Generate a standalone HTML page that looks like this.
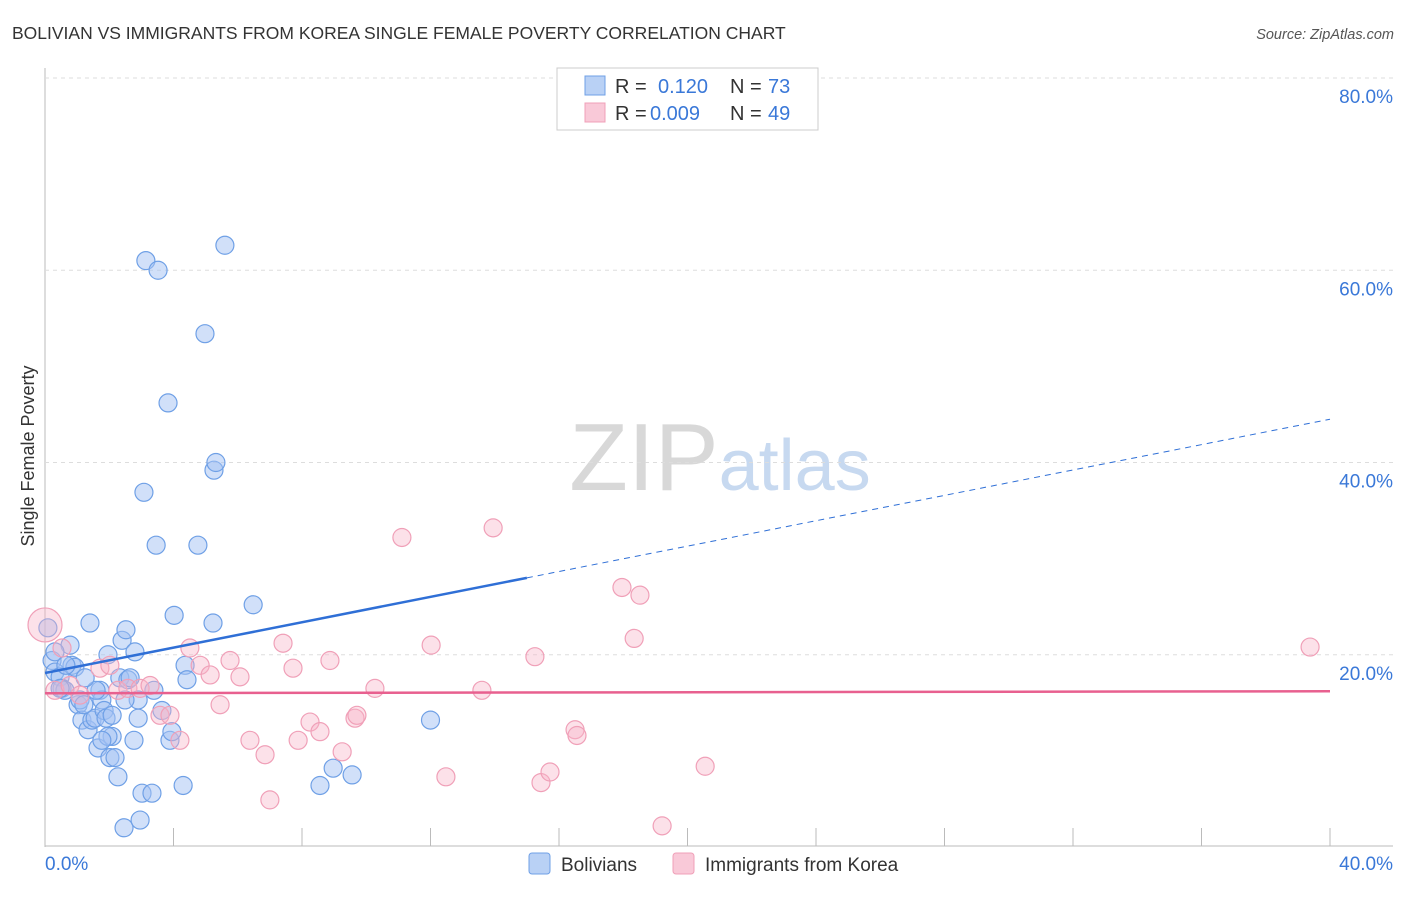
<!DOCTYPE html>
<html><head><meta charset="utf-8"><style>
body{margin:0;background:#fff;font-family:"Liberation Sans",sans-serif}
svg text{font-family:"Liberation Sans",sans-serif}
</style></head><body>
<svg id="chart" width="1406" height="892" xmlns="http://www.w3.org/2000/svg">
<text x="12" y="39" font-size="17.5" fill="#333">BOLIVIAN VS IMMIGRANTS FROM KOREA SINGLE FEMALE POVERTY CORRELATION CHART</text>
<text x="1394" y="39" font-size="14.5" fill="#555" font-style="italic" text-anchor="end">Source: ZipAtlas.com</text>
<text x="720" y="490" font-size="96" fill="#ddd" text-anchor="middle" font-family="Liberation Serif"><tspan fill="#d8d8d8">ZIP</tspan><tspan fill="#c7d9f0" font-family="Liberation Sans" font-size="72">atlas</tspan></text>
<text transform="translate(34,456) rotate(-90)" font-size="18" fill="#333" text-anchor="middle">Single Female Poverty</text>
<g id="grid"></g><g id="ticks"></g><g id="pts"></g><g id="lines"></g>
<g>
<rect x="557" y="68" width="261" height="62" fill="#fff" stroke="#ccc"/>
<rect x="585" y="76" width="20" height="19" fill="#b9d1f5" stroke="#6fa0e6"/>
<text x="615" y="93" font-size="20" fill="#333">R = </text><text x="658" y="93" font-size="20" fill="#3a78d8">0.120</text>
<text x="730" y="93" font-size="20" fill="#333">N = </text><text x="768" y="93" font-size="20" fill="#3a78d8">73</text>
<rect x="585" y="103" width="20" height="19" fill="#f9c9d8" stroke="#f0a0b8"/>
<text x="615" y="120" font-size="20" fill="#333">R = </text><text x="650" y="120" font-size="20" fill="#3a78d8">0.009</text>
<text x="730" y="120" font-size="20" fill="#333">N = </text><text x="768" y="120" font-size="20" fill="#3a78d8">49</text>
</g>
<g>
<rect x="529" y="853" width="21" height="21" rx="3" fill="#b9d1f5" stroke="#6fa0e6"/>
<text x="561" y="871" font-size="19" fill="#333">Bolivians</text>
<rect x="673" y="853" width="21" height="21" rx="3" fill="#f9c9d8" stroke="#f0a0b8"/>
<text x="705" y="871" font-size="19" fill="#333">Immigrants from Korea</text>
</g>
</svg>
<script>
const xTicks=[0,4,8,12,16,20,24,28,32,36,40];
const yTicks=[20,40,60,80];
const blueX=[0.09,0.22,0.31,0.47,0.53,0.62,0.78,0.84,0.93,1.03,1.09,1.15,1.34,1.40,1.46,1.56,1.65,1.71,1.77,1.84,1.90,1.96,2.02,2.09,2.18,2.27,2.33,2.40,2.46,2.52,2.58,2.65,2.77,2.90,2.96,3.02,3.08,3.14,3.33,3.39,3.46,3.52,3.64,3.83,3.89,3.95,4.02,4.30,4.36,4.42,4.76,4.98,5.23,5.26,5.32,5.60,6.48,8.56,8.97,9.56,12.0,0.31,0.65,1.21,1.59,1.96,2.09,1.25,2.80,0.47,1.77,2.90,2.49];
const blueY=[22.8,19.4,18.2,17.7,16.5,16.3,21.0,18.9,18.7,14.8,15.3,13.2,12.2,23.3,13.2,13.4,10.3,16.3,15.3,14.2,13.4,20.0,9.3,11.5,9.3,7.3,17.6,21.5,2.0,22.6,17.4,17.6,11.1,13.4,2.8,5.6,36.9,61.0,5.6,16.3,31.4,60.0,14.2,46.2,11.1,12.0,24.1,6.4,18.9,17.4,31.4,53.4,23.3,39.2,40.0,62.6,25.2,6.4,8.2,7.5,13.2,20.3,18.9,14.8,16.3,11.5,13.7,17.6,20.3,16.5,11.1,15.3,15.3];
const pinkX=[0,0.31,0.53,0.78,1.09,1.71,2.27,2.58,2.96,3.27,3.58,3.89,4.20,4.51,4.83,5.14,5.45,5.76,6.07,6.38,6.85,7.00,7.41,7.72,7.88,8.25,8.56,8.87,9.25,9.65,9.71,10.27,11.11,12.02,12.48,13.60,13.95,15.25,15.44,15.72,16.50,16.56,17.96,18.34,18.52,19.21,20.55,39.38,2.02];
const pinkY=[23.1,16.3,20.7,16.8,15.8,18.6,16.3,16.5,16.5,16.8,13.7,13.7,11.1,20.7,18.9,17.9,14.8,19.4,17.7,11.1,9.6,4.9,21.2,18.6,11.1,13.0,12.0,19.4,9.9,13.4,13.7,16.5,32.2,21.0,7.3,16.3,33.2,19.8,6.7,7.8,12.2,11.6,27.0,21.7,26.2,2.2,8.4,20.8,18.9];
const blueFit=[18.1,44.5]; const blueSolidEnd=15.0;
const pinkFit=[16.0,16.2];
const NS='http://www.w3.org/2000/svg';
const sx=v=>45+v/40*1285, sy=v=>847-v/80*769;
function mk(parent,tag,attrs){const e=document.createElementNS(NS,tag);for(const k in attrs)e.setAttribute(k,attrs[k]);document.getElementById(parent).appendChild(e);return e;}
let e;
e=mk('grid','line',{x1:45,y1:68,x2:45,y2:847,stroke:'#bbb'});


e=mk('grid','line',{x1:45,y1:846,x2:1393,y2:846,stroke:'#bbb'});


yTicks.forEach(t=>{
 e=mk('grid','line',{x1:45,y1:sy(t),x2:1393,y2:sy(t),stroke:'#ddd','stroke-dasharray':'4,4'});
 
 
 e=mk('ticks','text',{x:1393,y:sy(t)+25,'font-size':19,fill:'#3a78d8','text-anchor':'end'});
 e.textContent=t.toFixed(1)+'%';
 
 
});
xTicks.forEach(t=>{
 e=mk('ticks','line',{x1:sx(t),y1:828,x2:sx(t),y2:846,stroke:'#bbb'});
 
 
});
[[0,'start',45],[40,'end',1393]].forEach(([t,a,px])=>{
 e=mk('ticks','text',{x:px,y:870,'font-size':19,fill:'#3a78d8','text-anchor':a});
 e.textContent=t.toFixed(1)+'%';
 
 
});
blueX.forEach((x,i)=>{
 e=mk('pts','circle',{cx:sx(x),cy:sy(blueY[i]),r:9,fill:'rgba(164,194,244,0.5)',stroke:'#6fa0e6','stroke-width':1.2});
 
 
});
pinkX.forEach((x,i)=>{
 e=mk('pts','circle',{cx:sx(x),cy:sy(pinkY[i]),r:i===0?17:9,fill:'rgba(248,180,200,0.4)',stroke:'#f0a0b8','stroke-width':1.2});
 
 
});
const by=x=>blueFit[0]+(blueFit[1]-blueFit[0])*x/40;
e=mk('lines','line',{x1:sx(0),y1:sy(by(0)),x2:sx(blueSolidEnd),y2:sy(by(blueSolidEnd)),stroke:'#2f6fd6','stroke-width':2.5});


e=mk('lines','line',{x1:sx(blueSolidEnd),y1:sy(by(blueSolidEnd)),x2:sx(40),y2:sy(by(40)),stroke:'#2f6fd6','stroke-width':1,'stroke-dasharray':'6,5'});


e=mk('lines','line',{x1:sx(0),y1:sy(pinkFit[0]),x2:sx(40),y2:sy(pinkFit[1]),stroke:'#e8608f','stroke-width':2.5});


</script>
</body></html>
